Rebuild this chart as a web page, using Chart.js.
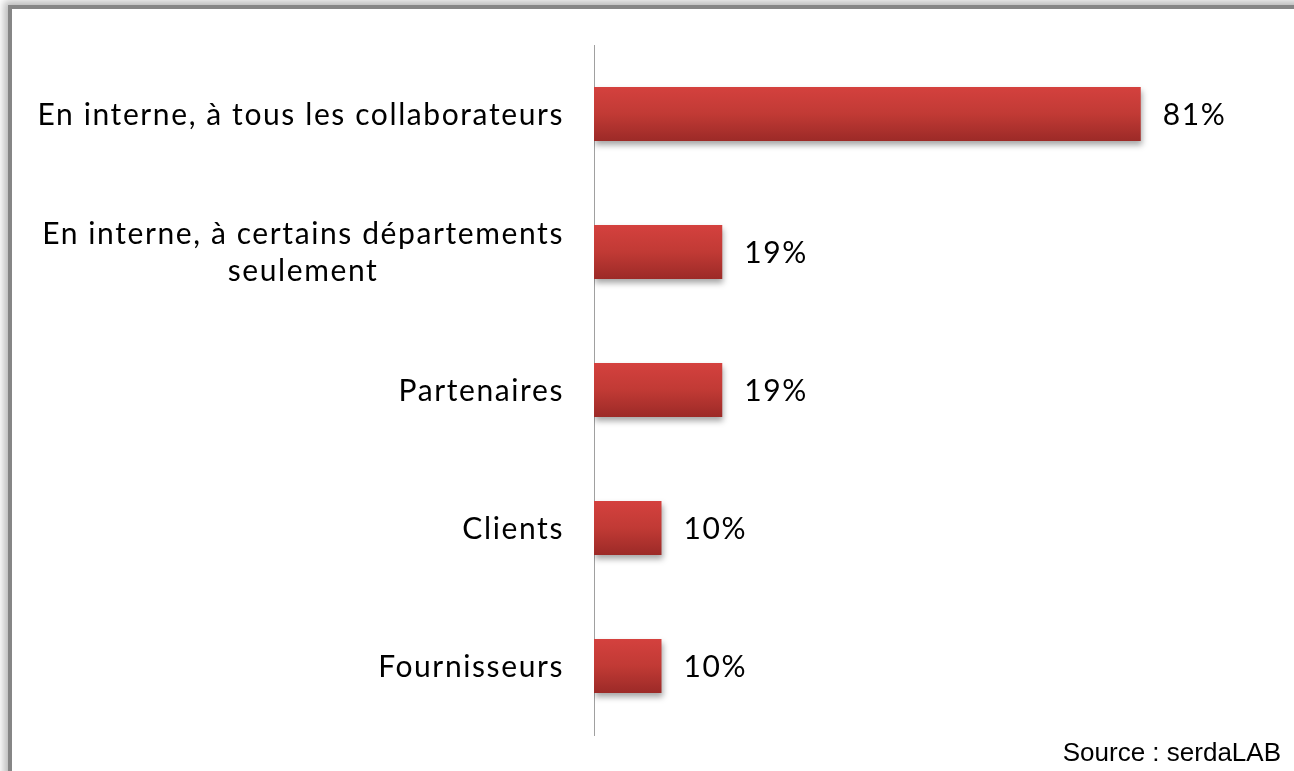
<!DOCTYPE html>
<html>
<head>
<meta charset="utf-8">
<script src="https://cdn.jsdelivr.net/npm/chart.js@4"></script>
<style>
  html, body { margin: 0; padding: 0; background: #fff; }
  body { width: 1294px; height: 771px; position: relative; overflow: hidden; }
  #frame {
    position: absolute; left: 8px; top: 5px; width: 1400px; height: 900px;
    border: 4px solid #868686; background: #fff;
    box-shadow: -4px -4px 8px rgba(0,0,0,0.28);
  }
  #wrap { position: absolute; left: 0; top: 0; width: 1294px; height: 771px; }
  #source {
    position: absolute; right: 13px; top: 739px;
    font: 26px/26px "Liberation Sans", Arial, sans-serif; color: #000;
  }
</style>
</head>
<body>
<div id="frame"></div>
<div id="wrap"><canvas id="chart" width="1294" height="771"></canvas></div>
<div id="source">Source : serdaLAB</div>
<script>
// ---- Data ----
const categories = [
  ["En interne, à tous les collaborateurs"],
  ["En interne, à certains départements", "seulement"],
  ["Partenaires"],
  ["Clients"],
  ["Fournisseurs"]
];
const values = [81, 19, 19, 10, 10];
const valueLabels = ["81%", "19%", "19%", "10%", "10%"];

const FONT = '30px Lato, "Open Sans", sans-serif';
const SPACING = "1.6px";
const BAR_PCT = 0.39;

// vertical gradient per bar, computed from the category scale
function barFill(c) {
  if (c.dataIndex === undefined) return "#c13a35";
  const y = c.chart.scales.y;
  if (!y || !y.height) return "#c13a35";
  const mid = y.getPixelForValue(c.dataIndex);
  const half = (y.height / categories.length) * BAR_PCT / 2;
  const g = c.chart.ctx.createLinearGradient(0, mid - half, 0, mid + half);
  g.addColorStop(0, "#d4413e");
  g.addColorStop(0.5, "#c13a35");
  g.addColorStop(1, "#9c2a27");
  return g;
}

// soft shadow under the bars
const barShadow = {
  id: "barShadow",
  beforeDatasetsDraw(chart) {
    const ctx = chart.ctx;
    ctx.save();
    ctx.shadowColor = "rgba(0,0,0,0.35)";
    ctx.shadowBlur = 6;
    ctx.shadowOffsetX = 1;
    ctx.shadowOffsetY = 4;
  },
  afterDatasetsDraw(chart) {
    chart.ctx.restore();
  }
};

// category labels (multi-line centred as a block) + value labels
const textLabels = {
  id: "textLabels",
  afterDraw(chart) {
    const ctx = chart.ctx;
    const y = chart.scales.y;
    const meta = chart.getDatasetMeta(0);
    ctx.save();
    ctx.font = FONT;
    ctx.letterSpacing = SPACING;
    ctx.fillStyle = "#000";
    ctx.textBaseline = "alphabetic";
    const capHalf = 10.5;
    const lineGap = 37;
    const right = y.right - 30;
    categories.forEach((lines, i) => {
      const cy = y.getPixelForValue(i);
      const widest = Math.max(...lines.map(l => ctx.measureText(l).width));
      const top = cy - (lines.length - 1) * lineGap / 2;
      if (lines.length > 1) {
        ctx.textAlign = "center";
        lines.forEach((l, k) => ctx.fillText(l, right - widest / 2, top + k * lineGap + capHalf));
      } else {
        ctx.textAlign = "right";
        ctx.fillText(lines[0], right, cy + capHalf);
      }
      const bar = meta.data[i];
      ctx.textAlign = "left";
      ctx.fillText(valueLabels[i], bar.x + 22, cy + capHalf);
    });
    ctx.restore();
  }
};

new Chart(document.getElementById("chart"), {
  type: "bar",
  data: {
    labels: categories,
    datasets: [{
      data: values,
      backgroundColor: barFill,
      borderWidth: 0,
      barPercentage: BAR_PCT,
      categoryPercentage: 1
    }]
  },
  options: {
    indexAxis: "y",
    animation: false,
    responsive: false,
    layout: { padding: { left: 0, right: 25, top: 45, bottom: 36 } },
    plugins: { legend: { display: false }, tooltip: { enabled: false } },
    scales: {
      x: { display: false, min: 0, max: 100 },
      y: {
        grid: { display: false },
        ticks: { display: false },
        border: { display: true, color: "#a0a0a0", width: 1 },
        afterFit(scale) { scale.width = 594; }
      }
    }
  },
  plugins: [barShadow, textLabels]
});
</script>
</body>
</html>
